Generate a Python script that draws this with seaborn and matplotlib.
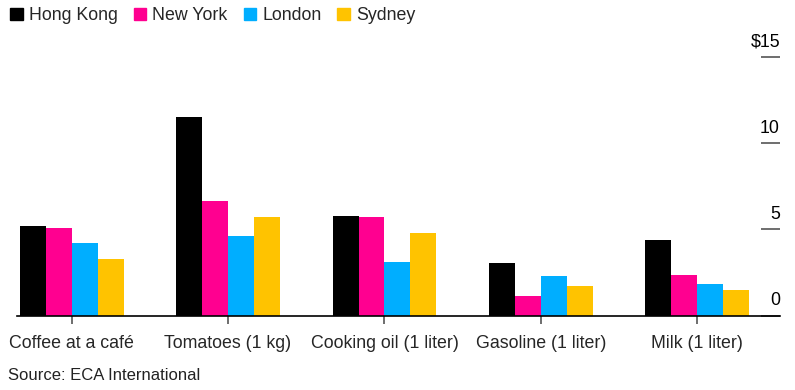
import matplotlib
matplotlib.use("Agg")
import matplotlib.pyplot as plt
import seaborn as sns
import pandas as pd

categories = ["Coffee at a café", "Tomatoes (1 kg)", "Cooking oil (1 liter)",
              "Gasoline (1 liter)", "Milk (1 liter)"]
cities = ["Hong Kong", "New York", "London", "Sydney"]
hong_kong = [5.2, 11.5, 5.8, 3.05, 4.4]
new_york = [5.1, 6.65, 5.7, 1.15, 2.35]
london = [4.2, 4.6, 3.1, 2.3, 1.8]
sydney = [3.3, 5.7, 4.8, 1.7, 1.5]
yticks = [0, 5, 10, 15]
ytick_labels = ["0", "5", "10", "$15"]
colors = ["#000000", "#ff0090", "#00aeff", "#ffc300"]

rows = []
for city, vals in zip(cities, [hong_kong, new_york, london, sydney]):
    for cat, v in zip(categories, vals):
        rows.append({"item": cat, "city": city, "price": v})
df = pd.DataFrame(rows)

sns.set_style("white")
plt.rcParams["font.family"] = ["Liberation Sans", "DejaVu Sans"]

fig = plt.figure(figsize=(7.95, 3.9), dpi=100)
ax = fig.add_axes([0.0214, 0.191, 0.9597, 0.663])
sns.barplot(data=df, x="item", y="price", hue="city", order=categories,
            hue_order=cities, palette=colors, saturation=1, width=0.664,
            gap=0, edgecolor="none", linewidth=0, ax=ax)

ax.set_xlim(-0.349, 4.528)
ax.set_ylim(0, 15)
ax.set_xlabel("")
ax.set_ylabel("")
for s in ["top", "left", "right"]:
    ax.spines[s].set_visible(False)
ax.spines["bottom"].set_color("black")
ax.spines["bottom"].set_linewidth(1.2)

ax.tick_params(axis="x", bottom=True, length=6, width=1.2, color="#555555",
               labelsize=12.8, pad=8)
ax.yaxis.tick_right()
ax.set_yticks(yticks)
ax.tick_params(axis="y", right=True, direction="in", length=14, width=1.2,
               color="#555555", labelright=False)
for v, lab in zip(yticks, ytick_labels):
    ax.annotate(lab, xy=(1, v), xycoords=("axes fraction", "data"),
                xytext=(0, 7.5), textcoords="offset points",
                ha="right", va="baseline", fontsize=12.8, color="black",
                annotation_clip=False)

ax.legend_.remove()
handles = [plt.Rectangle((0, 0), 1, 1, color=c) for c in colors]
fig.legend(handles, cities, loc="upper left", bbox_to_anchor=(-0.003, 1.013),
           ncol=4, frameon=False, fontsize=12.8, handlelength=0.7,
           handleheight=0.7, handletextpad=0.35, columnspacing=0.9,
           borderaxespad=0.3)

fig.text(0.01, 0.018, "Source: ECA International", fontsize=12,
         color="#222222", ha="left", va="bottom")

fig.savefig("out.png", dpi=100)
plt.close()
